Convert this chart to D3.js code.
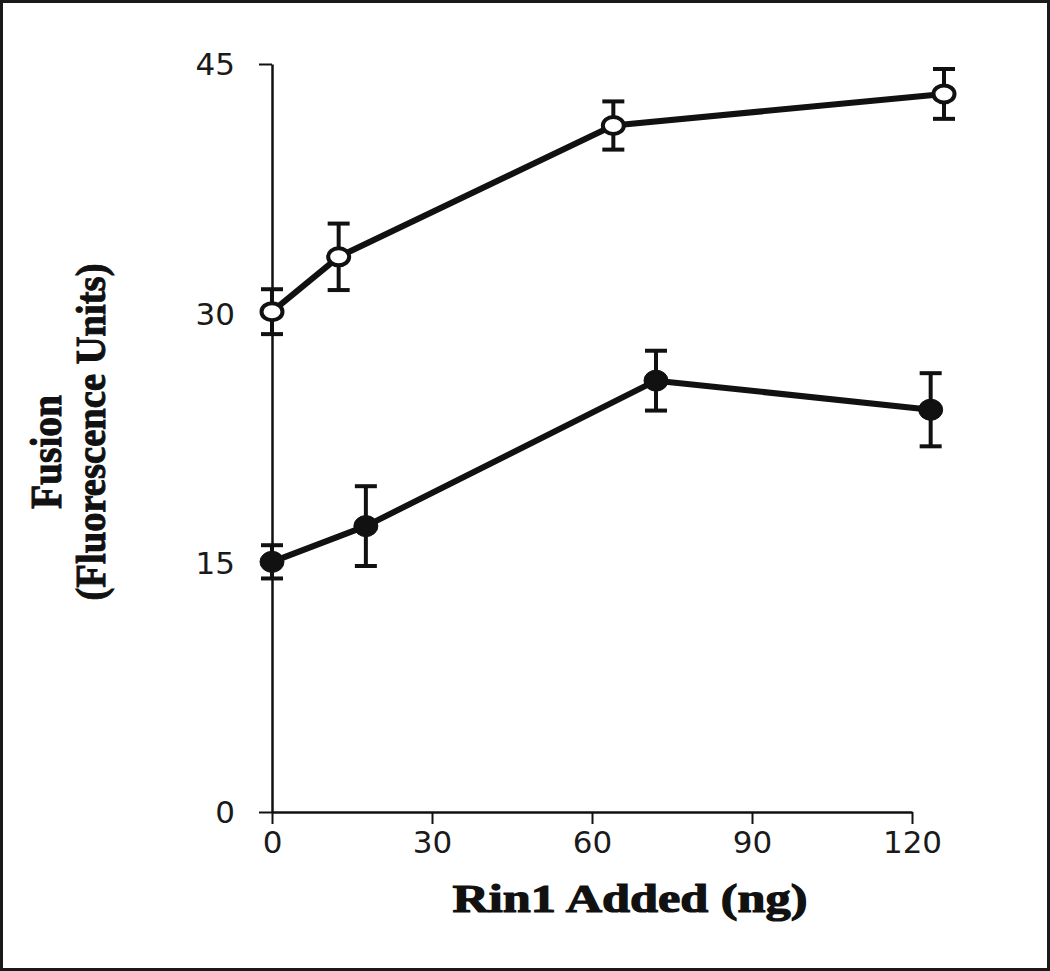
<!DOCTYPE html>
<html>
<head>
<meta charset="utf-8">
<script src="https://cdn.jsdelivr.net/npm/d3@7"></script>
<style>
  html, body { margin: 0; padding: 0; background: #fff; }
  svg { display: block; }
</style>
</head>
<body>
<svg id="chart" width="1050" height="971"></svg>
<script>
// ---- data ----
const xTicks = [0, 30, 60, 90, 120];
const yTicks = [0, 15, 30, 45];
const openX   = [0, 12.5, 64, 126];
const openY   = [30.1, 33.4, 41.3, 43.2];
const openErr = [1.35, 2.0, 1.45, 1.5];
const filledX   = [0, 17.6, 72, 123.5];
const filledY   = [15.05, 17.2, 25.95, 24.2];
const filledErr = [1.0, 2.4, 1.8, 2.2];
const xLabel = "Rin1 Added (ng)";
const yLabel1 = "Fusion";
const yLabel2 = "(Fluorescence Units)";

const svg = d3.select("#chart");
const W = 1050, H = 971;

// outer frame
svg.append("rect").attr("x", 1.5).attr("y", 1.5).attr("width", W - 3).attr("height", H - 3)
  .attr("fill", "#fff").attr("stroke", "#1a1a1a").attr("stroke-width", 3);

const x = d3.scaleLinear().domain([0, 120]).range([272, 912]);
const y = d3.scaleLinear().domain([0, 45]).range([812, 64]);

// axes
const xAxis = d3.axisBottom(x).tickValues(xTicks).tickSize(12).tickPadding(7).tickSizeOuter(0);
const yAxis = d3.axisLeft(y).tickValues(yTicks).tickSize(13).tickPadding(24).tickSizeOuter(0);

const gx = svg.append("g").attr("transform", "translate(0,812)").call(xAxis);
const gy = svg.append("g").attr("transform", "translate(272,0)").call(yAxis);

[gx, gy].forEach(g => {
  g.select(".domain").attr("stroke", "#111").attr("stroke-width", 2.5);
  g.selectAll(".tick line").attr("stroke", "#111").attr("stroke-width", 2);
  g.selectAll(".tick text")
    .attr("fill", "#1a1a1a")
    .style("font-family", "'DejaVu Sans', Verdana, sans-serif")
    .style("font-size", "31px");
});
gy.selectAll(".tick text").attr("dy", "0.35em");
gy.selectAll(".tick line").filter(d => d === 15 || d === 30).attr("x2", 0);

// lines
const line = d3.line().x(d => x(d[0])).y(d => y(d[1]));
const openPts = openX.map((v, i) => [v, openY[i], openErr[i]]);
const filledPts = filledX.map((v, i) => [v, filledY[i], filledErr[i]]);

function drawSeries(pts, filled) {
  const g = svg.append("g");
  g.append("path").datum(pts).attr("d", line)
    .attr("fill", "none").attr("stroke", "#111").attr("stroke-width", 6)
    .attr("stroke-linejoin", "round");
  // error bars
  const eb = g.selectAll(".eb").data(pts).enter().append("g");
  eb.append("line")
    .attr("x1", d => x(d[0])).attr("x2", d => x(d[0]))
    .attr("y1", d => y(d[1] + d[2])).attr("y2", d => y(d[1] - d[2]))
    .attr("stroke", "#111").attr("stroke-width", 4);
  eb.append("line")
    .attr("x1", d => x(d[0]) - 11).attr("x2", d => x(d[0]) + 11)
    .attr("y1", d => y(d[1] + d[2])).attr("y2", d => y(d[1] + d[2]))
    .attr("stroke", "#111").attr("stroke-width", 4);
  eb.append("line")
    .attr("x1", d => x(d[0]) - 11).attr("x2", d => x(d[0]) + 11)
    .attr("y1", d => y(d[1] - d[2])).attr("y2", d => y(d[1] - d[2]))
    .attr("stroke", "#111").attr("stroke-width", 4);
  // markers
  g.selectAll(".m").data(pts).enter().append("ellipse")
    .attr("cx", d => x(d[0])).attr("cy", d => y(d[1]))
    .attr("rx", filled ? 12 : 10.5).attr("ry", filled ? 10.5 : 8.5)
    .attr("fill", filled ? "#111" : "#fff")
    .attr("stroke", "#111").attr("stroke-width", filled ? 1 : 4);
}
drawSeries(openPts, false);
drawSeries(filledPts, true);

// axis labels
const serif = "'Liberation Serif', 'Times New Roman', serif";
svg.append("text")
  .attr("x", 630).attr("y", 912)
  .attr("text-anchor", "middle")
  .attr("textLength", 355).attr("lengthAdjust", "spacingAndGlyphs")
  .style("font-family", serif).style("font-weight", "bold").style("font-size", "41px")
  .attr("fill", "#111").attr("stroke", "#111").attr("stroke-width", 1.2)
  .text(xLabel);

svg.append("text")
  .attr("transform", "translate(61,452) rotate(-90)")
  .attr("text-anchor", "middle")
  .attr("textLength", 114).attr("lengthAdjust", "spacingAndGlyphs")
  .style("font-family", serif).style("font-weight", "bold").style("font-size", "44px")
  .attr("fill", "#111").attr("stroke", "#111").attr("stroke-width", 1)
  .text(yLabel1);

svg.append("text")
  .attr("transform", "translate(105,432) rotate(-90)")
  .attr("text-anchor", "middle")
  .attr("textLength", 337).attr("lengthAdjust", "spacingAndGlyphs")
  .style("font-family", serif).style("font-weight", "bold").style("font-size", "42px")
  .attr("fill", "#111").attr("stroke", "#111").attr("stroke-width", 1)
  .text(yLabel2);
</script>
</body>
</html>
